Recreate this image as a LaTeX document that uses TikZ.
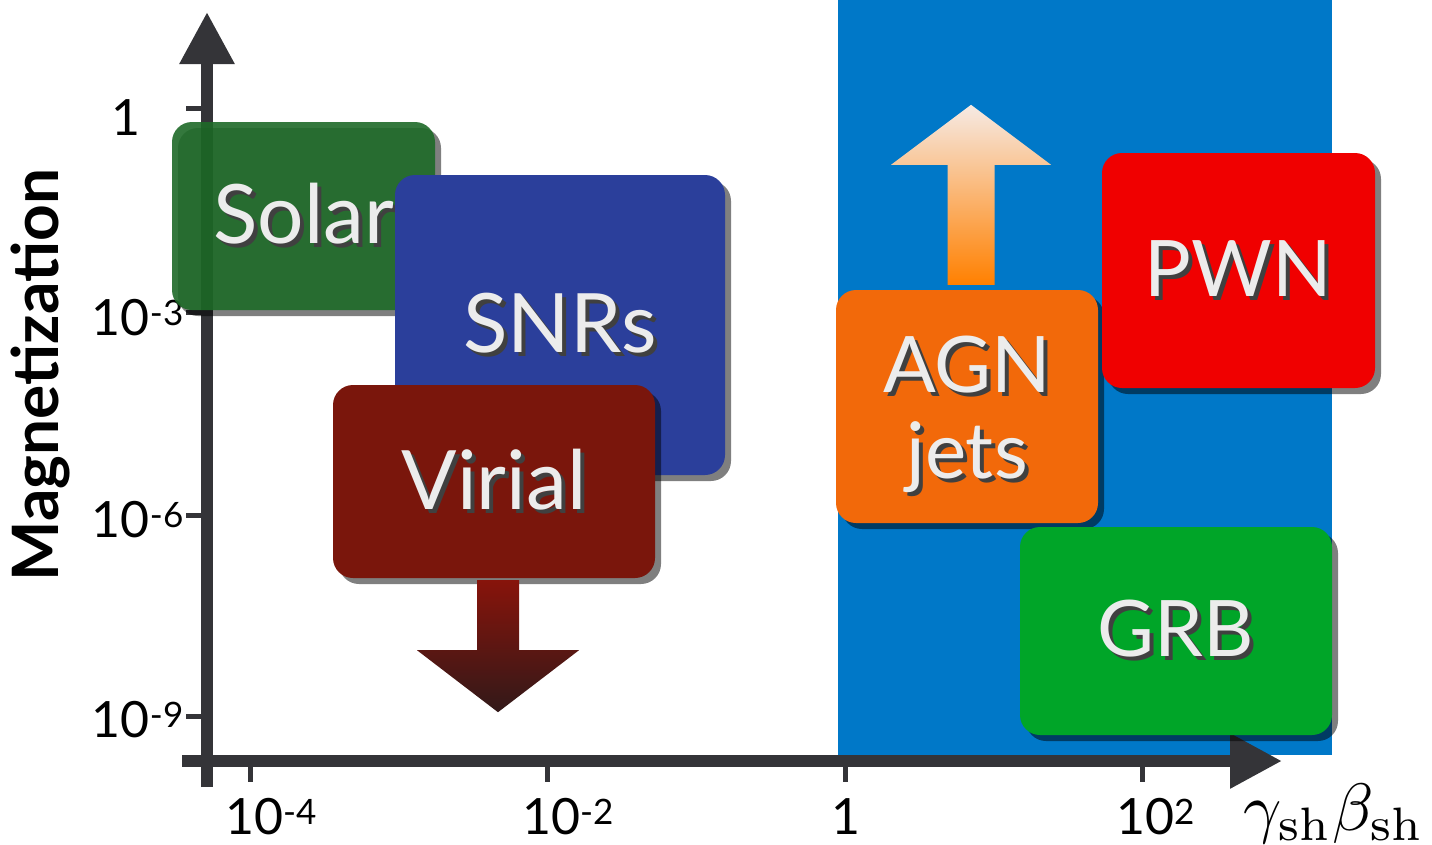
\documentclass[tikz,border=0pt]{standalone}
\usepackage[no-math]{fontspec}
\usepackage{graphicx}
\setmainfont{Lato}
\usetikzlibrary{arrows.meta,shadows,calc}
\definecolor{axisgray}{RGB}{52,52,56}
\definecolor{bgblue}{RGB}{0,120,200}
\definecolor{solargreen}{RGB}{30,106,40}
\definecolor{snrblue}{RGB}{43,63,155}
\definecolor{virialred}{RGB}{122,22,12}
\definecolor{agnorange}{RGB}{242,105,10}
\definecolor{pwnred}{RGB}{240,0,0}
\definecolor{grbgreen}{RGB}{0,165,40}
\definecolor{boxtext}{RGB}{236,236,236}
\definecolor{arrowdark}{RGB}{50,25,25}
\definecolor{jetorange}{RGB}{255,128,0}
\definecolor{jetpale}{RGB}{246,234,228}
\newcommand{\shtxt}[1]{\leavevmode\rlap{\kern4pt\raisebox{-4pt}{\textcolor{black!75}{#1}}}{#1}}
\begin{document}
\begin{tikzpicture}[x=1pt,y=-1pt,
  axis/.style={draw=axisgray,line width=12pt},
  tickmark/.style={draw=axisgray,line width=5pt},
  ticklab/.style={text=black,inner sep=0pt,font=\fontsize{50}{54}\selectfont},
  regionbox/.style={rounded corners=20pt,inner sep=0pt,text=boxtext,align=center,
    font=\fontsize{82}{92}\selectfont,
    drop shadow={shadow xshift=6pt,shadow yshift=-6pt,opacity=0.5,fill=black}},
  smallbox/.style={regionbox,font=\fontsize{78}{92}\selectfont}]
\useasboundingbox (0,0) rectangle (1432,844);
\fill[white] (0,0) rectangle (1432,844);
% relativistic region
\fill[bgblue] (838,0) rectangle (1332,755);
% axes
\coordinate (yb) at (207,787);
\coordinate (yt) at (207,12);
\coordinate (xl) at (182,761);
\coordinate (xr) at (1282,761);
\draw[axis,-{Triangle[length=52pt,width=52pt]}] (yb) -- (yt);
\draw[axis,-{Triangle[length=52pt,width=52pt]}] (xl) -- (xr);
% y ticks
\foreach \yy/\nm in {108/ta,312/tb,515/tc,716/td}{
  \coordinate (\nm) at (207,\yy);
  \draw[tickmark] (\nm) -- ++(-21,0);
}
\node[ticklab,anchor=base east] (l1) at (141,135) {1};
\node[ticklab,anchor=base east] (l3) at (184,335) {10\textsuperscript{-3}};
\node[ticklab,anchor=base east] (l6) at (184,537) {10\textsuperscript{-6}};
\node[ticklab,anchor=base east] (l9) at (184,737) {10\textsuperscript{-9}};
% x ticks
\foreach \xx/\nm in {250/sa,547/sb,845/sc,1142/sd}{
  \coordinate (\nm) at (\xx,761);
  \draw[tickmark] (\nm) -- ++(0,21);
}
\node[ticklab,anchor=base west] (m4) at (225,834) {10\textsuperscript{-4}};
\node[ticklab,anchor=base west] (m2) at (522,834) {10\textsuperscript{-2}};
\node[ticklab,anchor=base] (m0) at (846,834) {1};
\node[ticklab,anchor=base west] (p2) at (1116,834) {10\textsuperscript{2}};
\node[inner sep=0pt,anchor=base west] (xlab) at (1243,830) {\scalebox{6.7}{$\gamma_{\rm sh}\beta_{\rm sh}$}};
\node[rotate=90,inner sep=0pt,font=\fontsize{64}{68}\selectfont\bfseries] (ylab) at (40,375) {Magnetization};
% source classes
\node[regionbox,fill=solargreen,fill opacity=0.9,text opacity=1,minimum width=263pt,minimum height=188pt] (solar) at (303.5,216) {\shtxt{Solar}};
\node[regionbox,fill=snrblue,minimum width=330pt,minimum height=300pt] (snr) at (560,325) {\shtxt{SNRs}};
\node[regionbox,fill=virialred,minimum width=322pt,minimum height=193pt] (virial) at (494,481.5) {\shtxt{Virial}};
\node[smallbox,fill=agnorange,minimum width=262pt,minimum height=233pt] (agn) at (967,406.5) {\raisebox{-11pt}[\height][\depth]{\begin{tabular}{@{}c@{}}\shtxt{AGN}\\[-6pt]\shtxt{jets}\end{tabular}}};
\node[smallbox,fill=pwnred,minimum width=273pt,minimum height=235pt] (pwn) at (1238.5,270.5) {\shtxt{PWN}};
\node[smallbox,fill=grbgreen,minimum width=312pt,minimum height=208pt] (grb) at (1176,631) {\shtxt{GRB}};
% block arrows
\coordinate (va) at ($(virial.south)+(4,2)$);
\shade[top color=virialred!90!red,bottom color=arrowdark]
  (va) ++(-21,0) -- ++(0,70) -- ++(-60,0) -- ++(81,62) -- ++(81,-62) -- ++(-60,0) -- ++(0,-70) -- cycle;
\coordinate (ja) at ($(agn.north)+(4,-5)$);
\shade[bottom color=jetorange,top color=jetpale]
  (ja) ++(-23.5,0) -- ++(0,-120) -- ++(-56.5,0) -- ++(80,-60) -- ++(80,60) -- ++(-56.5,0) -- ++(0,120) -- cycle;
\end{tikzpicture}
\end{document}
